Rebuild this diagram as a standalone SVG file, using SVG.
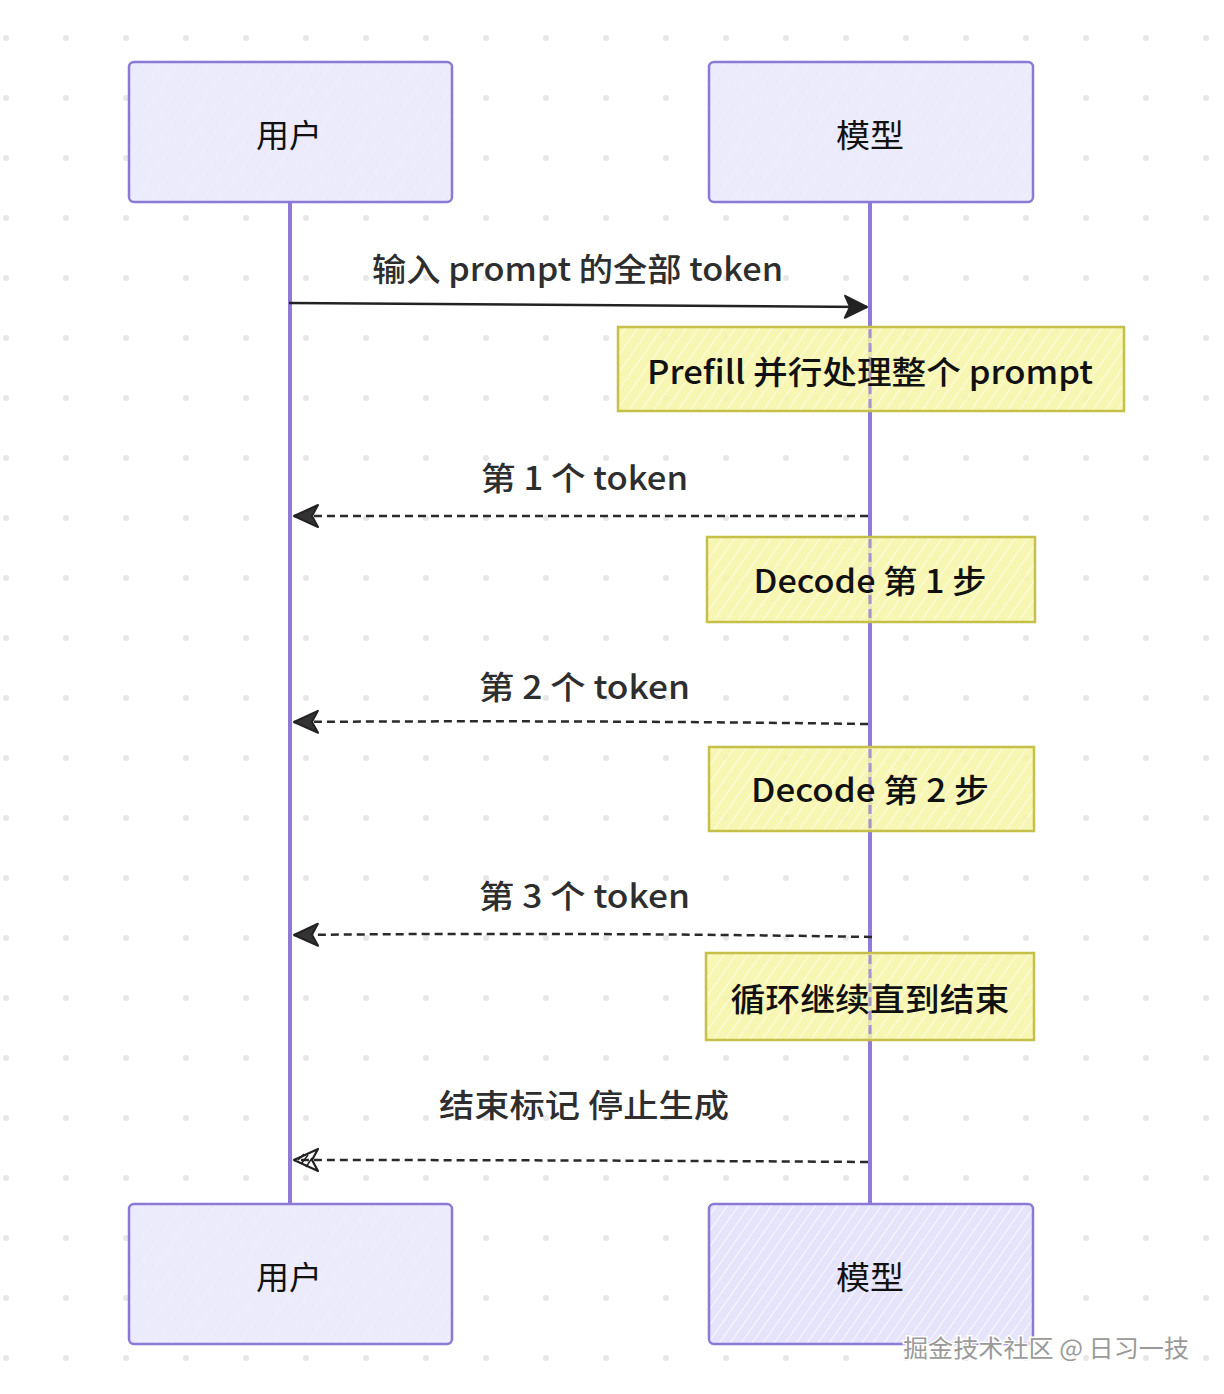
<svg xmlns="http://www.w3.org/2000/svg" width="1224" height="1394" viewBox="0 0 1224 1394">
<defs>
<pattern id="dots" x="0" y="0" width="60" height="60" patternUnits="userSpaceOnUse">
<circle cx="6" cy="38" r="3" fill="#e8e8e8"/>
</pattern>
<pattern id="hachP" width="14" height="14" patternUnits="userSpaceOnUse" patternTransform="rotate(35)">
<rect width="14" height="14" fill="#ecebfb"/>
<line x1="0" y1="0" x2="0" y2="14" stroke="#ffffff" stroke-width="1.2" opacity="0.35"/>
</pattern>
<pattern id="hachP2" width="9" height="9" patternUnits="userSpaceOnUse" patternTransform="rotate(35)">
<rect width="9" height="9" fill="#e6e4fa"/>
<line x1="0" y1="0" x2="0" y2="9" stroke="#ffffff" stroke-width="1.6" opacity="0.9"/>
</pattern>
<pattern id="hachY" width="10" height="10" patternUnits="userSpaceOnUse" patternTransform="rotate(35)">
<rect width="10" height="10" fill="#f6f5a6" fill-opacity="0.85"/>
<line x1="0" y1="0" x2="0" y2="10" stroke="#ffffff" stroke-width="2.2" opacity="0.6"/>
</pattern>
<marker id="arrF" viewBox="0 0 26 26" refX="24" refY="13" markerWidth="26" markerHeight="26" markerUnits="userSpaceOnUse" orient="auto">
<path d="M2,2 L24,13 L2,24 L7,13 Z" fill="#222" stroke="#222" stroke-width="2" stroke-linejoin="round"/>
</marker>
<marker id="arrO" viewBox="0 0 28 28" refX="26" refY="14" markerWidth="28" markerHeight="28" markerUnits="userSpaceOnUse" orient="auto">
<path d="M2,3 L26,14 L2,25 L8,14 Z" fill="#333" stroke="#222" stroke-width="2" stroke-linejoin="round"/>
</marker>
<marker id="arrH" viewBox="0 0 28 28" refX="26" refY="14" markerWidth="28" markerHeight="28" markerUnits="userSpaceOnUse" orient="auto">
<path d="M2,3 L26,14 L2,25 L8,14 Z" fill="none" stroke="#222" stroke-width="2.2" stroke-linejoin="round"/>
<path d="M19,10 L12,19 M14,7 L8,16 M22,14 L16,20" stroke="#222" stroke-width="1.5"/>
</marker>
</defs>
<style>
.actor{stroke:#8a7ad6;stroke-width:2.5;}
.note{stroke:#c4c04a;stroke-width:2.5;fill:url(#hachY);}
.lbl{font-family:"Noto Sans CJK SC","Noto Sans",sans-serif;font-size:32px;text-anchor:middle;dominant-baseline:central;}
.msg{fill:#2e2e2e;font-weight:500;}
.ntxt{fill:#111111;font-weight:500;}
.atxt{fill:#111111;}
.life{stroke:#9079d8;stroke-width:4;}
.lifeover{stroke:#9079d8;stroke-width:3;stroke-dasharray:9 5;opacity:0.75;}
.dash{stroke:#2a2a2a;stroke-width:2.5;stroke-dasharray:8 5;fill:none;}
</style>
<rect width="1224" height="1394" fill="#ffffff"/>
<rect width="1224" height="1394" fill="url(#dots)"/>

<g id="lifelines">
<line class="life" x1="290" y1="202" x2="290" y2="1204"/>
<line class="life" x1="870" y1="202" x2="870" y2="1204"/>
</g>

<g id="actor-user-top">
<rect class="actor" x="129" y="62" width="323" height="140" rx="5" fill="url(#hachP)"/>
<text class="lbl atxt" x="289" y="133" textLength="66" lengthAdjust="spacingAndGlyphs">用户</text>
</g>
<g id="actor-model-top">
<rect class="actor" x="709" y="62" width="324" height="140" rx="5" fill="url(#hachP)"/>
<text class="lbl atxt" x="870" y="133" textLength="68" lengthAdjust="spacingAndGlyphs">模型</text>
</g>
<g id="actor-user-bottom">
<rect class="actor" x="129" y="1204" width="323" height="140" rx="5" fill="url(#hachP)"/>
<text class="lbl atxt" x="289" y="1275" textLength="66" lengthAdjust="spacingAndGlyphs">用户</text>
</g>
<g id="actor-model-bottom">
<rect class="actor" x="709" y="1204" width="324" height="140" rx="5" fill="url(#hachP2)"/>
<text class="lbl atxt" x="870" y="1275" textLength="68" lengthAdjust="spacingAndGlyphs">模型</text>
</g>

<g id="note-prefill">
<rect class="note" x="618" y="327" width="506" height="84"/>
<line class="lifeover" x1="870" y1="329" x2="870" y2="409"/>
<text class="lbl ntxt" x="870" y="370" textLength="446" lengthAdjust="spacingAndGlyphs">Prefill 并行处理整个 prompt</text>
</g>
<g id="note-decode1">
<rect class="note" x="707" y="537" width="328" height="85"/>
<line class="lifeover" x1="870" y1="539" x2="870" y2="620"/>
<text class="lbl ntxt" x="870" y="579" textLength="233" lengthAdjust="spacingAndGlyphs">Decode 第 1 步</text>
</g>
<g id="note-decode2">
<rect class="note" x="709" y="747" width="325" height="84"/>
<line class="lifeover" x1="870" y1="749" x2="870" y2="829"/>
<text class="lbl ntxt" x="870" y="788" textLength="238" lengthAdjust="spacingAndGlyphs">Decode 第 2 步</text>
</g>
<g id="note-loop">
<rect class="note" x="706" y="953" width="328" height="87"/>
<line class="lifeover" x1="870" y1="955" x2="870" y2="1038"/>
<text class="lbl ntxt" x="870" y="997" textLength="279" lengthAdjust="spacingAndGlyphs">循环继续直到结束</text>
</g>

<g id="connectors">
<path d="M289,303 Q580,304 867,307" stroke="#222" stroke-width="2.5" fill="none" marker-end="url(#arrF)"/>
<path class="dash" d="M868,516 L294,516" marker-end="url(#arrO)"/>
<path class="dash" d="M868,724 Q580,720 294,722" marker-end="url(#arrO)"/>
<path class="dash" d="M872,937 Q580,932 294,935" marker-end="url(#arrO)"/>
<path class="dash" d="M868,1162 Q580,1160 294,1160" stroke-width="3" marker-end="url(#arrH)"/>
</g>

<g id="message-labels">
<text class="lbl msg" x="577.5" y="267" textLength="411" lengthAdjust="spacingAndGlyphs">输入 prompt 的全部 token</text>
<text class="lbl msg" x="584.5" y="476" textLength="207" lengthAdjust="spacingAndGlyphs">第 1 个 token</text>
<text class="lbl msg" x="584.5" y="685" textLength="211" lengthAdjust="spacingAndGlyphs">第 2 个 token</text>
<text class="lbl msg" x="584.5" y="894" textLength="211" lengthAdjust="spacingAndGlyphs">第 3 个 token</text>
<text class="lbl msg" x="584" y="1103" textLength="290" lengthAdjust="spacingAndGlyphs">结束标记 停止生成</text>
</g>

<text x="1046" y="1346" font-family="Noto Sans CJK SC, Noto Sans, sans-serif" font-size="24" text-anchor="middle" dominant-baseline="central" fill="#9a9a9a" stroke="#ffffff" stroke-width="3" paint-order="stroke" textLength="286" lengthAdjust="spacingAndGlyphs">掘金技术社区 @ 日习一技</text>
</svg>
